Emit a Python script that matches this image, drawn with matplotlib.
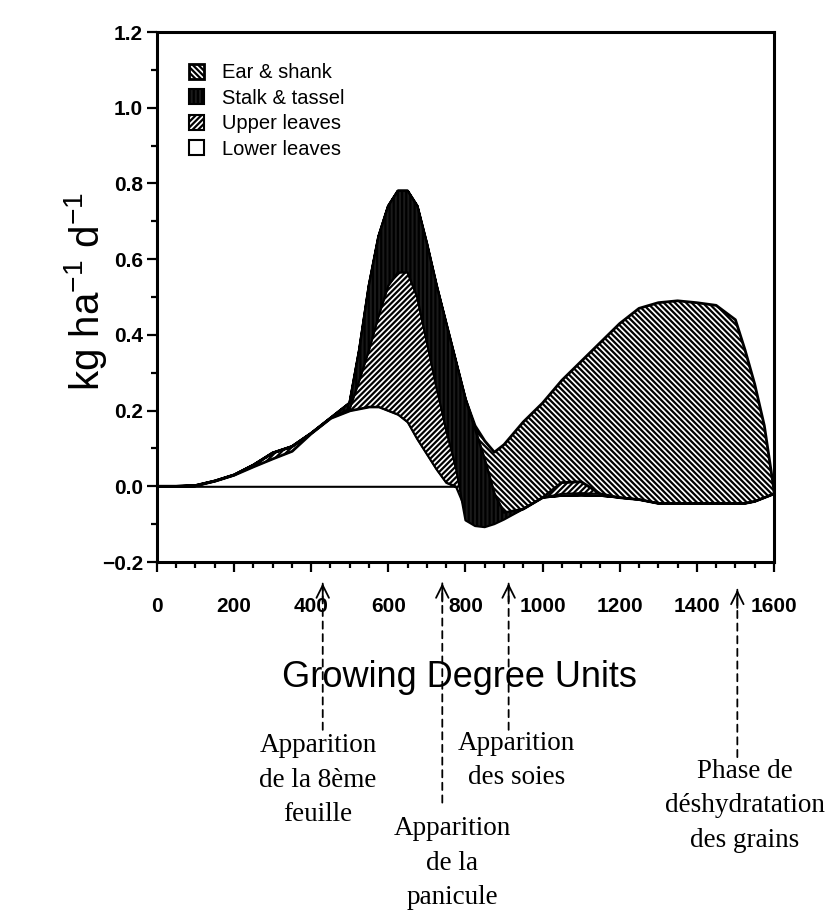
import matplotlib
matplotlib.use("Agg")
import matplotlib.pyplot as plt
from matplotlib.ticker import MultipleLocator

plt.rcParams['font.family'] = ['Liberation Sans', 'DejaVu Sans']
plt.rcParams['mathtext.fontset'] = 'custom'
plt.rcParams['mathtext.rm'] = 'Liberation Sans'
plt.rcParams['mathtext.default'] = 'regular'
plt.rcParams['hatch.linewidth'] = 1.6

# growing degree units
gdu = [0, 50, 100, 150, 200, 250, 300, 350, 400, 450, 500, 525, 550, 575, 600,
       625, 650, 675, 700, 725, 750, 775, 800, 825, 850, 875, 900, 950, 1000,
       1050, 1100, 1150, 1200, 1250, 1300, 1350, 1400, 1450, 1500, 1525, 1550,
       1575, 1600]

# layer edges (kg ha-1 d-1)
lower_top = [0, 0, 0.002, 0.014, 0.03, 0.052, 0.073, 0.093, 0.14, 0.18, 0.2,
             0.205, 0.21, 0.21, 0.2, 0.19, 0.17, 0.125, 0.085, 0.045, 0.01, 0] + [0] * 21

bottom_tail = [-0.03, -0.035, -0.045, -0.045, -0.045, -0.045, -0.045, -0.045,
               -0.04, -0.03, -0.02]   # 1200 .. 1600

upper_bot = lower_top[:22] + [-0.06, -0.09, -0.1, -0.09, -0.085, -0.06, -0.03,
                              -0.02, -0.018, -0.02] + bottom_tail
upper_top = [0, 0, 0.002, 0.014, 0.03, 0.056, 0.088, 0.105, 0.14, 0.18, 0.205,
             0.28, 0.36, 0.45, 0.53, 0.565, 0.565, 0.5, 0.38, 0.26, 0.15, 0.05,
             0, 0, 0, 0, 0, -0.01, -0.03, 0.01, 0.012, -0.02] + bottom_tail

stalk_bot = upper_top[:22] + [-0.09, -0.105, -0.108, -0.1, -0.088, -0.06, -0.03,
                              -0.025, -0.024, -0.025] + bottom_tail
stalk_top = upper_top[:10] + [0.22, 0.36, 0.53, 0.66, 0.74, 0.78, 0.78, 0.74,
                              0.64, 0.53, 0.43, 0.33, 0.23, 0.15, 0.07, -0.02,
                              -0.07, -0.06, -0.03, -0.025, -0.024, -0.025] + bottom_tail

ear_bot = stalk_top[:28] + [-0.03, 0.01, 0.012, -0.02] + bottom_tail
ear_top = stalk_top[:23] + [0.16, 0.12, 0.09, 0.11, 0.17, 0.22, 0.28, 0.33, 0.38,
                            0.43, 0.47, 0.485, 0.49, 0.485, 0.478, 0.44, 0.36,
                            0.27, 0.16, -0.01]

legend_labels = ['Ear & shank', 'Stalk & tassel', 'Upper leaves', 'Lower leaves']

# growth stages (arrow positions in GDU, other positions in figure fraction)
stage_gdu = [430, 740, 912, 1505]
stage_tip = [0.359, 0.359, 0.359, 0.352]
stage_end = [0.198, 0.118, 0.198, 0.168]
stage_tx = [0.379, 0.539, 0.616, 0.888]
stage_ty = [0.194, 0.0, 0.197, 0.166]
stage_va = ['top', 'bottom', 'top', 'top']
stage_text = ['Apparition\nde la 8ème\nfeuille',
              'Apparition\nde la\npanicule',
              'Apparition\ndes soies',
              'Phase de\ndéshydratation\ndes grains']

fig = plt.figure(figsize=(8.39, 9.10), dpi=100)
ax = fig.add_axes([0.187, 0.3824, 0.7355, 0.5824])

ax.axhline(0, color='black', lw=1.2, zorder=1)
low = ax.fill_between(gdu, 0, lower_top, facecolor='white', edgecolor='black',
                      lw=1.5, zorder=2)
up = ax.fill_between(gdu, upper_bot, upper_top, facecolor='white', hatch='//////',
                     edgecolor='black', lw=1.5, zorder=3)
ear = ax.fill_between(gdu, ear_bot, ear_top, facecolor='white', hatch='\\\\\\\\\\\\',
                      edgecolor='black', lw=2.0, zorder=4)
stalk = ax.fill_between(gdu, stalk_bot, stalk_top, facecolor='#1a1a1a', hatch='||||',
                        edgecolor='black', lw=1.5, zorder=5)

ax.set_xlim(0, 1600)
ax.set_ylim(-0.2, 1.2)
ax.xaxis.set_major_locator(MultipleLocator(200))
ax.xaxis.set_minor_locator(MultipleLocator(50))
ax.yaxis.set_major_locator(MultipleLocator(0.2))
ax.yaxis.set_minor_locator(MultipleLocator(0.1))
ax.tick_params(which='both', direction='out', width=1.6, labelsize=15)
ax.tick_params(which='major', length=7)
ax.tick_params(which='minor', length=4)
ax.tick_params(axis='x', pad=18)
ax.tick_params(axis='y', pad=3)
for lab in ax.get_xticklabels() + ax.get_yticklabels():
    lab.set_fontweight('bold')
for sp in ax.spines.values():
    sp.set_linewidth(2.2)

ax.set_xlabel('Growing Degree Units', fontsize=26)
ax.xaxis.set_label_coords(0.49, -0.185)
ax.set_ylabel(r'kg ha$^{-1}$ d$^{-1}$', fontsize=29)
ax.yaxis.set_label_coords(-0.078, 0.51)

ax.legend([ear, stalk, up, low], legend_labels, loc='upper left',
          bbox_to_anchor=(0.022, 0.975), frameon=False, fontsize=14.5,
          handlelength=0.75, handleheight=0.75, labelspacing=0.32,
          handletextpad=0.9)

for g, tip, end, tx, ty, va, txt in zip(stage_gdu, stage_tip, stage_end, stage_tx,
                                        stage_ty, stage_va, stage_text):
    ax.annotate('', xy=(g, tip), xycoords=('data', 'figure fraction'),
                xytext=(g, end), textcoords=('data', 'figure fraction'),
                arrowprops=dict(arrowstyle='-', linestyle=(0, (4, 3)), lw=1.3,
                                color='black', shrinkA=0, shrinkB=0),
                annotation_clip=False)
    ax.annotate('', xy=(g, tip), xycoords=('data', 'figure fraction'),
                xytext=(g, tip - 0.02), textcoords=('data', 'figure fraction'),
                arrowprops=dict(arrowstyle='->, head_length=0.9, head_width=0.45',
                                lw=1.3, color='black', shrinkA=0, shrinkB=0),
                annotation_clip=False)
    fig.text(tx, ty, txt, ha='center', va=va, fontsize=19.5,
             family='Liberation Serif', linespacing=1.5, multialignment='center')

fig.savefig('out.png', dpi=100)
